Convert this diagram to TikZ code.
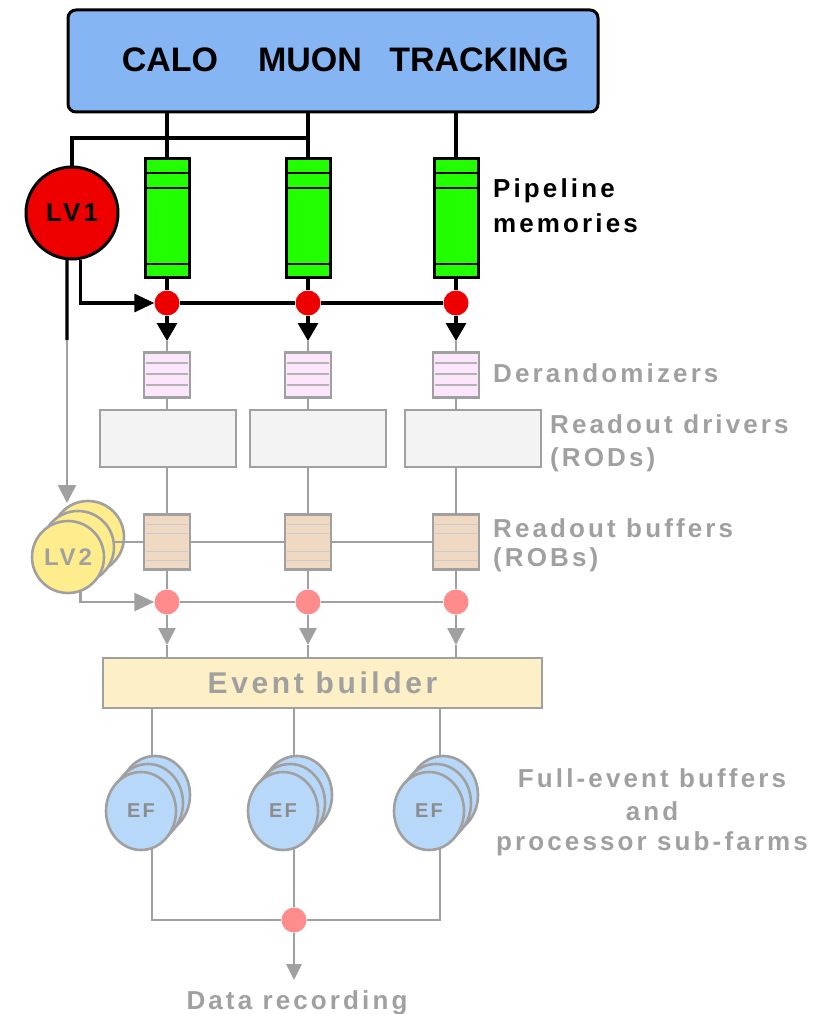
\documentclass[tikz,border=0pt]{standalone}
\usepackage{fontspec}
\setmainfont{Liberation Sans}
\newfontfamily\spaced[LetterSpace=12]{Liberation Sans}
\usetikzlibrary{arrows.meta,calc,shapes.geometric}
\definecolor{calo}{HTML}{85B5F2}
\definecolor{pipegreen}{HTML}{22FF00}
\definecolor{lvred}{HTML}{EE0000}
\definecolor{greyline}{HTML}{A0A0A0}
\definecolor{greytext}{HTML}{A0A0A0}
\definecolor{pinkfill}{HTML}{FCE6FC}
\definecolor{rodfill}{HTML}{F3F3F3}
\definecolor{robfill}{HTML}{EFD9C3}
\definecolor{lvyellow}{HTML}{FFEC8C}
\definecolor{fadered}{HTML}{FF8C8C}
\definecolor{ebfill}{HTML}{FDF0C6}
\definecolor{efblue}{HTML}{B8D8FA}
\begin{document}
\begin{tikzpicture}[x=1pt,y=-1pt,
  blk/.style={line width=3.2pt, black},
  gry/.style={line width=2.8pt, greyline},
  thin gry/.style={line width=2.2pt, greyline},
  bar/.style={draw=black, line width=3pt, fill=pipegreen, minimum width=44pt, minimum height=119pt, inner sep=0pt},
  reddot/.style={circle, fill=lvred, minimum size=25pt, inner sep=0pt},
  fadedot/.style={circle, fill=fadered, minimum size=25pt, inner sep=0pt},
  derand/.style={draw=greyline, line width=2.4pt, fill=pinkfill, minimum width=46pt, minimum height=45pt, inner sep=0pt},
  rodbox/.style={draw=greyline, line width=2.4pt, fill=rodfill, minimum width=136pt, minimum height=57pt, inner sep=0pt},
  robbox/.style={draw=greyline, line width=2.4pt, fill=robfill, minimum width=46pt, minimum height=55pt, inner sep=0pt},
  lvtwo/.style={circle, draw=greyline, line width=2.6pt, fill=lvyellow, minimum size=72pt, inner sep=0pt},
  efell/.style={ellipse, draw=greyline, line width=2.6pt, fill=efblue, minimum width=70pt, minimum height=78pt, inner sep=0pt},
  bigarrow/.style={-{Triangle[length=18pt,width=20pt]}},
  blabel/.style={font=\fontsize{26}{26}\selectfont\spaced\bfseries, text=black, inner sep=0pt},
  glabel/.style={font=\fontsize{26}{26}\selectfont\spaced\bfseries, text=greytext, inner sep=0pt},
  toptext/.style={font=\fontsize{34}{34}\selectfont\bfseries, inner sep=0pt}
]
\useasboundingbox (0,0) rectangle (814,1014);

% ---------- detector box ----------
\node[draw, line width=3pt, rounded corners=8pt, fill=calo, minimum width=530pt, minimum height=102pt] (det) at (333,61) {};
\node[toptext] (tcalo) at (170,60) {CALO};
\node[toptext] (tmuon) at (310,60) {MUON};
\node[toptext] (ttrack) at (479,60) {TRACKING};

% ---------- pipelines ----------
\node[bar] (p1) at (167,217.5) {};
\node[bar] (p2) at (308,217.5) {};
\node[bar] (p3) at (456,217.5) {};
\foreach \c in {167,308,456}{
  \draw[line width=2.6pt] (\c-22,173) -- (\c+22,173);
  \draw[line width=2.6pt] (\c-22,188) -- (\c+22,188);
  \draw[line width=2.6pt] (\c-22,264) -- (\c+22,264);
}
\draw[blk] (det.south -| p1) -- (p1.north);
\draw[blk] (det.south -| p2) -- (p2.north);
\draw[blk] (det.south -| p3) -- (p3.north);

% ---------- LV1 ----------
\node[circle, draw, line width=3pt, fill=lvred, minimum size=92pt, inner sep=0pt,
      font=\fontsize{26}{26}\selectfont\spaced\bfseries] (lv1) at (72,213) {LV1};
\coordinate (tj) at (310,138);
\draw[blk] (lv1.north) |- (tj);

% red dots
\node[reddot] (d1) at (167,303) {};
\node[reddot] (d2) at (308,303) {};
\node[reddot] (d3) at (456,303) {};
\draw[blk] (p1.south) -- (d1);
\draw[blk] (p2.south) -- (d2);
\draw[blk] (p3.south) -- (d3);
\draw[blk] (d1) -- (d2);
\draw[blk] (d2) -- (d3);
\draw[blk,-{Triangle[length=20pt,width=18pt]}] (lv1.-80) |- (d1.west);

% ---------- derandomizers ----------
\node[derand] (dr1) at (167,375) {};
\node[derand] (dr2) at (308,375) {};
\node[derand] (dr3) at (456,375) {};
\foreach \c in {167,308,456}{
  \foreach \yy in {363,374,385}{
    \draw[line width=1.4pt, greyline!80] (\c-21,\yy) -- (\c+21,\yy);
  }
}
\coordinate (a1) at (167,341);
\coordinate (a2) at (308,341);
\coordinate (a3) at (456,341);
\draw[blk,bigarrow] (d1) -- (a1);
\draw[blk,bigarrow] (d2) -- (a2);
\draw[blk,bigarrow] (d3) -- (a3);
\draw[thin gry] (a1) -- (a1 |- dr1.north);
\draw[thin gry] (a2) -- (a2 |- dr2.north);
\draw[thin gry] (a3) -- (a3 |- dr3.north);

% ---------- RODs ----------
\node[rodbox] (rod1) at (168,438.5) {};
\node[rodbox] (rod2) at (318,438.5) {};
\node[rodbox] (rod3) at (473,438.5) {};
\draw[thin gry] (dr1.south) -- (dr1.south |- rod1.north);
\draw[thin gry] (dr2.south) -- (dr2.south |- rod2.north);
\draw[thin gry] (dr3.south) -- (dr3.south |- rod3.north);

% ---------- ROBs ----------
\node[robbox] (rb1) at (167,542) {};
\node[robbox] (rb2) at (308,542) {};
\node[robbox] (rb3) at (456,542) {};
\foreach \c in {167,308,456}{
  \foreach \yy in {524,533,551,560}{
    \draw[line width=0.9pt, greyline!55] (\c-21,\yy) -- (\c+21,\yy);
  }
}
\draw[thin gry] (rb1.north |- rod1.south) -- (rb1.north);
\draw[thin gry] (rb2.north |- rod2.south) -- (rb2.north);
\draw[thin gry] (rb3.north |- rod3.south) -- (rb3.north);

% ---------- LV2 ----------
\node[lvtwo] (lv2c) at (88,537) {};
\node[lvtwo] (lv2b) at (78,547) {};
\node[lvtwo, font=\fontsize{24}{24}\selectfont\spaced\bfseries, text=greytext] (lv2) at (68,557) {LV2};
\coordinate (lvmid) at (67,340);
\coordinate (lv2top) at (67,503);
\draw[blk] (lv1.-96) -- (lvmid);
\draw[gry,-{Triangle[length=18pt,width=18pt]}] (lvmid) -- (lv2top);

\draw[gry] (lv2b.east |- rb1.west) -- (rb1.west);
\draw[gry] (rb1.east) -- (rb2.west);
\draw[gry] (rb2.east) -- (rb3.west);

% faded dots
\node[fadedot] (e1) at (167,602) {};
\node[fadedot] (e2) at (308,602) {};
\node[fadedot] (e3) at (456,602) {};
\draw[thin gry] (rb1.south) -- (e1);
\draw[thin gry] (rb2.south) -- (e2);
\draw[thin gry] (rb3.south) -- (e3);
\draw[gry] (e1) -- (e2);
\draw[gry] (e2) -- (e3);
\draw[gry, -{Triangle[length=20pt,width=18pt]}] (lv2.-70) |- (e1.west);

% ---------- Event builder ----------
\node[draw=greyline, line width=2.4pt, fill=ebfill, minimum width=439pt, minimum height=50pt, inner sep=0pt,
      font=\fontsize{30}{30}\selectfont\spaced\bfseries, text=greytext] (eb) at (322.5,683) {Event builder};
\coordinate (b1) at (167,645);
\coordinate (b2) at (308,645);
\coordinate (b3) at (456,645);
\draw[gry, -{Triangle[length=17pt,width=17pt]}] (e1) -- (b1);
\draw[gry, -{Triangle[length=17pt,width=17pt]}] (e2) -- (b2);
\draw[gry, -{Triangle[length=17pt,width=17pt]}] (e3) -- (b3);
\draw[thin gry] (b1) -- (b1 |- eb.north);
\draw[thin gry] (b2) -- (b2 |- eb.north);
\draw[thin gry] (b3) -- (b3 |- eb.north);

% ---------- farms ----------
\coordinate (f1) at (152,920);
\coordinate (f3) at (440,920);
\node[fadedot] (fr) at (294,920) {};
\draw[gry] (eb.south -| f1) -- (f1) -- (fr);
\draw[gry] (fr) -- (f3) -- (eb.south -| f3);
\draw[gry] (eb.south -| fr) -- (fr);
\foreach \c/\n in {152/1,294/2,440/3}{
  \node[efell] (efc\n) at (\c+3,795) {};
  \node[efell] (efb\n) at (\c-4,803) {};
  \node[efell, font=\fontsize{20}{20}\selectfont\spaced\bfseries, text=black!45] (efa\n) at (\c-11,811) {EF};
}
\coordinate (rec) at (294,980);
\draw[gry, -{Triangle[length=16pt,width=15pt]}] (fr) -- (rec);

% ---------- labels ----------
\node[blabel, anchor=base west] (lpipe) at (493,197) {Pipeline};
\node[blabel, anchor=base west] (lmem) at (493,232) {memories};
\node[glabel, anchor=base west] (lder) at (493,382) {Derandomizers};
\node[glabel, anchor=base west] (lrod) at (550,433) {Readout drivers};
\node[glabel, anchor=base west] (lrods) at (550,466) {(RODs)};
\node[glabel, anchor=base west] (lrob) at (493,537) {Readout buffers};
\node[glabel, anchor=base west] (lrobs) at (493,566) {(ROBs)};
\node[glabel, anchor=base] (lfull) at (652,787) {Full-event buffers};
\node[glabel, anchor=base] (land) at (652,820) {and};
\node[glabel, anchor=base] (lproc) at (652,850) {processor sub-farms};
\node[glabel, anchor=base] (ldata) at (297,1009) {Data recording};
\end{tikzpicture}
\end{document}
